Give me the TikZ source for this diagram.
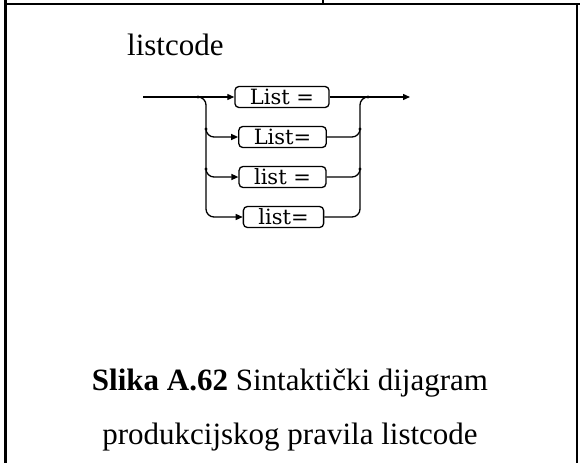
\documentclass[tikz,border=0pt]{standalone}
\usepackage{fontspec}
\setmainfont{Liberation Serif}
\newfontfamily\termfont{DejaVu Serif}
\usetikzlibrary{arrows.meta}

\begin{document}
\begin{tikzpicture}[x=1pt, y=-1pt, >={Triangle[length=7pt,width=6pt]},
  term/.style={draw,line width=1.3pt,rounded corners=4pt,minimum height=21pt,inner xsep=15pt,inner ysep=0pt,font=\termfont\fontsize{21}{23}\selectfont},
  dot/.style={circle,fill,inner sep=1.1pt},
  rail/.style={line width=1.3pt,rounded corners=8pt}]
  \useasboundingbox (0,0) rectangle (580,463);
  % frame of the table cell
  \draw[line width=2.6pt] (5.5,0) -- (5.5,463);
  \draw[line width=2.6pt] (4.2,4) -- (580,4);
  \draw[line width=1.4pt] (323,0) -- (323,4);
  \draw[line width=1.4pt] (577,4) -- (577,463);
  % rule name
  \node[anchor=base west,inner sep=0pt,font=\fontsize{31}{36}\selectfont] (title) at (127,55) {listcode};
  % terminals
  \node[term] (t1) at (282,97) {List =};
  \node[term] (t2) at (282.5,137) {List=};
  \node[term] (t3) at (282.5,177) {list =};
  \node[term] (t4) at (283.5,217) {list=};
  % junctions
  \coordinate (in) at (143,97);
  \coordinate (out) at (410,97);
  \node[dot] (l1) at (198,97) {};
  \node[dot] (l2) at (206,129) {};
  \node[dot] (l3) at (206,169) {};
  \node[dot] (r1) at (368,97) {};
  \node[dot] (r2) at (360,129) {};
  \node[dot] (r3) at (360,169) {};
  % main line
  \draw[rail,->] (in) -- (t1);
  \draw[rail,->] (t1) -- (out);
  % left rail
  \draw[rail,->] (l1.center) -| (l2.center |- t4.west) -- (t4.west);
  \draw[rail,->] (l2.center) |- (t2.west);
  \draw[rail,->] (l3.center) |- (t3.west);
  % right rail
  \draw[rail] (t4.east) -| (r2.center |- r1.center) -- (r1.center);
  \draw[rail] (t2.east) -| (r2.center);
  \draw[rail] (t3.east) -| (r3.center);
  % caption
  \node[anchor=base,inner sep=0pt,font=\fontsize{31}{36}\selectfont] (cap1) at (290,390) {\textbf{Slika A.62} Sintaktički dijagram};
  \node[anchor=base,inner sep=0pt,font=\fontsize{31}{36}\selectfont] (cap2) at (290,444) {produkcijskog pravila listcode};
\end{tikzpicture}
\end{document}
